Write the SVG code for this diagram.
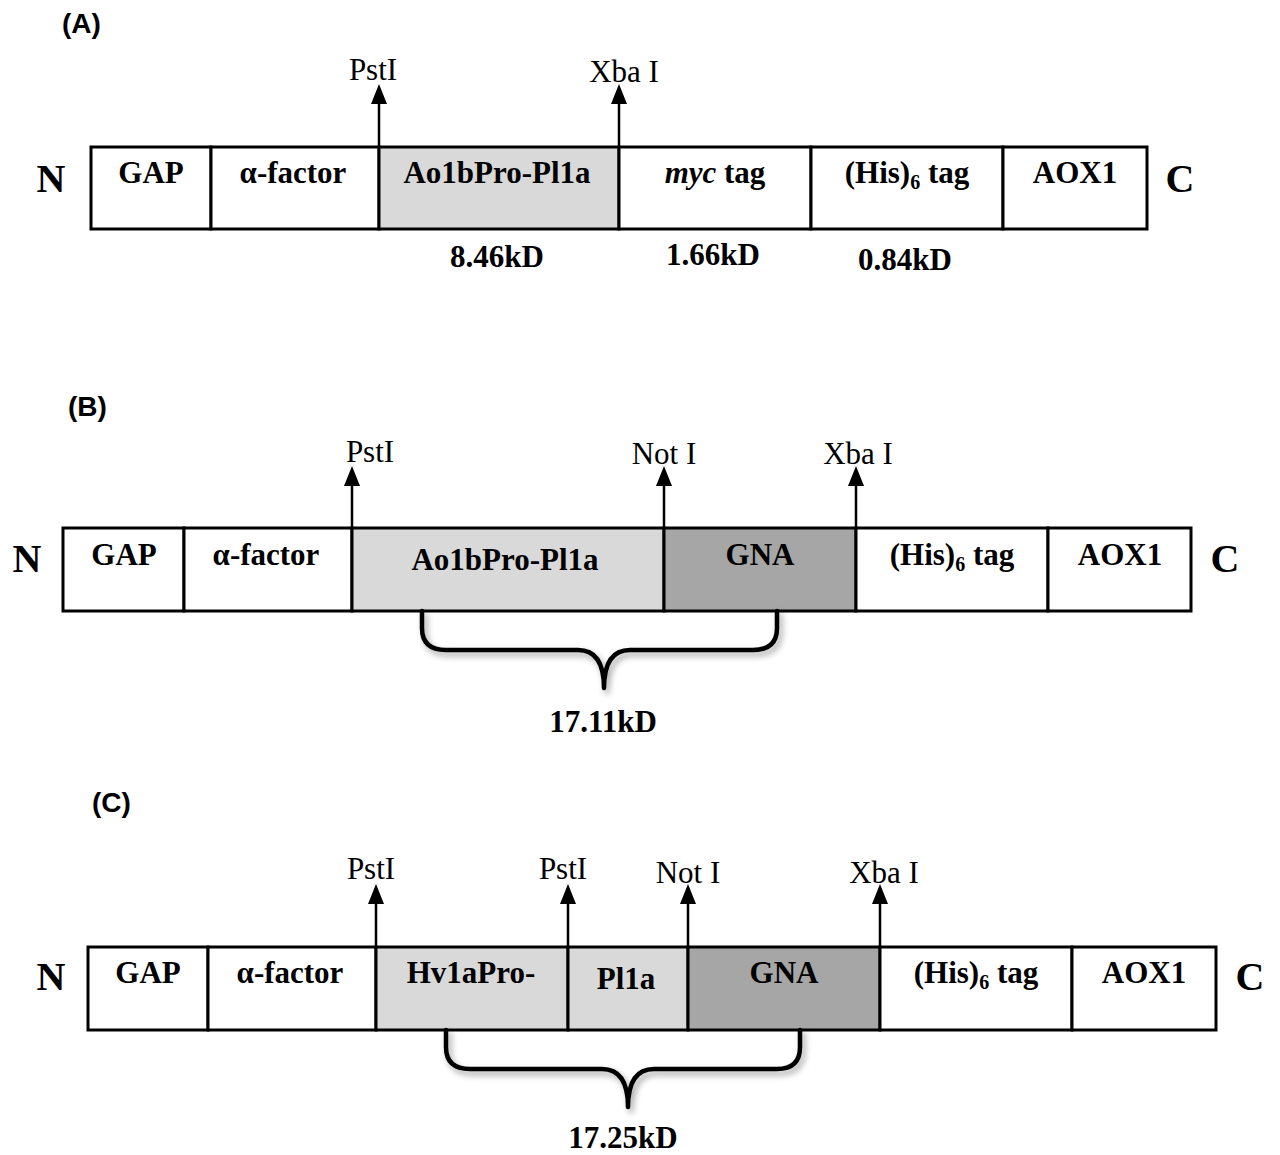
<svg xmlns="http://www.w3.org/2000/svg" width="1280" height="1155" viewBox="0 0 1280 1155">
<defs>
<style>
.seg{stroke:#000;stroke-width:3;fill:#fff}
.lg{fill:#d9d9d9}
.dg{fill:#a6a6a6}
.lbl{font-family:"Liberation Serif","Times New Roman",serif;font-weight:bold;font-size:31px;text-anchor:middle;fill:#000}
.end{font-family:"Liberation Serif","Times New Roman",serif;font-weight:bold;font-size:40px;text-anchor:middle;fill:#000}
.site{font-family:"Liberation Serif","Times New Roman",serif;font-size:31px;text-anchor:middle;fill:#000}
.panel{font-family:"Liberation Sans",Arial,sans-serif;font-weight:bold;font-size:28px;fill:#000}
.arr{stroke:#000;stroke-width:2.5;fill:none}
.brace{stroke:#000;stroke-width:4.5;fill:none;stroke-linecap:round;stroke-linejoin:round}
.sub{font-size:20px}
</style>
<marker id="ah" markerWidth="20" markerHeight="16" refX="0" refY="8" orient="auto" markerUnits="userSpaceOnUse" viewBox="0 0 20 16">
<path d="M0,0 L20,8 L0,16 Z" fill="#000"/>
</marker>
<filter id="sh" x="-10%" y="-30%" width="120%" height="170%">
<feDropShadow dx="3" dy="4" stdDeviation="3" flood-color="#000" flood-opacity="0.35"/>
</filter>
</defs>
<rect width="1280" height="1155" fill="#fff"/>

<!-- Panel A -->
<text class="panel" x="62" y="33">(A)</text>
<g id="A-nodes">
<g id="A-N"><text class="end" x="51" y="192">N</text></g>
<g id="A-GAP"><rect class="seg" x="91" y="147" width="120" height="82"/><text class="lbl" x="151" y="183">GAP</text></g>
<g id="A-alpha"><rect class="seg" x="211" y="147" width="168" height="82"/><text class="lbl" x="293" y="183">α-factor</text></g>
<g id="A-Ao1b"><rect class="seg lg" x="379" y="147" width="240" height="82"/><text class="lbl" x="497" y="183">Ao1bPro-Pl1a</text></g>
<g id="A-myc"><rect class="seg" x="619" y="147" width="192" height="82"/><text class="lbl" x="715" y="183"><tspan font-style="italic">myc</tspan> tag</text></g>
<g id="A-his"><rect class="seg" x="811" y="147" width="192" height="82"/><text class="lbl" x="907" y="183">(His)<tspan class="sub" dy="6">6</tspan><tspan dy="-6"> tag</tspan></text></g>
<g id="A-AOX1"><rect class="seg" x="1003" y="147" width="144" height="82"/><text class="lbl" x="1075" y="183">AOX1</text></g>
<g id="A-C"><text class="end" x="1180" y="192">C</text></g>
<g id="A-sizes">
<text class="lbl" x="497" y="267">8.46kD</text>
<text class="lbl" x="713" y="265">1.66kD</text>
<text class="lbl" x="905" y="270">0.84kD</text>
</g>
</g>
<g id="A-connectors">
<line class="arr" x1="379" y1="147" x2="379" y2="104" marker-end="url(#ah)"/>
<line class="arr" x1="619" y1="147" x2="619" y2="104" marker-end="url(#ah)"/>
</g>
<g id="A-sites">
<text class="site" x="373" y="80">PstI</text>
<text class="site" x="624" y="82">Xba I</text>
</g>

<!-- Panel B -->
<text class="panel" x="68" y="416">(B)</text>
<g id="B-nodes">
<g id="B-N"><text class="end" x="27" y="572">N</text></g>
<g id="B-GAP"><rect class="seg" x="63" y="528" width="121" height="83"/><text class="lbl" x="124" y="565">GAP</text></g>
<g id="B-alpha"><rect class="seg" x="184" y="528" width="168" height="83"/><text class="lbl" x="266" y="565">α-factor</text></g>
<g id="B-Ao1b"><rect class="seg lg" x="352" y="528" width="312" height="83"/><text class="lbl" x="505" y="570">Ao1bPro-Pl1a</text></g>
<g id="B-GNA"><rect class="seg dg" x="664" y="528" width="192" height="83"/><text class="lbl" x="760" y="565">GNA</text></g>
<g id="B-his"><rect class="seg" x="856" y="528" width="192" height="83"/><text class="lbl" x="952" y="565">(His)<tspan class="sub" dy="6">6</tspan><tspan dy="-6"> tag</tspan></text></g>
<g id="B-AOX1"><rect class="seg" x="1048" y="528" width="143" height="83"/><text class="lbl" x="1120" y="565">AOX1</text></g>
<g id="B-C"><text class="end" x="1225" y="572">C</text></g>
<g id="B-size"><text class="lbl" x="603" y="732">17.11kD</text></g>
</g>
<g id="B-connectors">
<line class="arr" x1="352" y1="528" x2="352" y2="486" marker-end="url(#ah)"/>
<line class="arr" x1="664" y1="528" x2="664" y2="486" marker-end="url(#ah)"/>
<line class="arr" x1="856" y1="528" x2="856" y2="486" marker-end="url(#ah)"/>
<path class="brace" filter="url(#sh)" d="M422,611 L422,628 Q422,650 446,650 L578,650 Q604,650 604,688 Q604,650 630,650 L753,650 Q777,650 777,628 L777,611"/>
</g>
<g id="B-sites">
<text class="site" x="370" y="462">PstI</text>
<text class="site" x="664" y="464">Not I</text>
<text class="site" x="858" y="464">Xba I</text>
</g>

<!-- Panel C -->
<text class="panel" x="92" y="812">(C)</text>
<g id="C-nodes">
<g id="C-N"><text class="end" x="51" y="990">N</text></g>
<g id="C-GAP"><rect class="seg" x="88" y="947" width="120" height="83"/><text class="lbl" x="148" y="983">GAP</text></g>
<g id="C-alpha"><rect class="seg" x="208" y="947" width="168" height="83"/><text class="lbl" x="290" y="983">α-factor</text></g>
<g id="C-Hv1a"><rect class="seg lg" x="376" y="947" width="192" height="83"/><text class="lbl" x="471" y="983">Hv1aPro-</text></g>
<g id="C-Pl1a"><rect class="seg lg" x="568" y="947" width="120" height="83"/><text class="lbl" x="626" y="989">Pl1a</text></g>
<g id="C-GNA"><rect class="seg dg" x="688" y="947" width="192" height="83"/><text class="lbl" x="784" y="983">GNA</text></g>
<g id="C-his"><rect class="seg" x="880" y="947" width="192" height="83"/><text class="lbl" x="976" y="983">(His)<tspan class="sub" dy="6">6</tspan><tspan dy="-6"> tag</tspan></text></g>
<g id="C-AOX1"><rect class="seg" x="1072" y="947" width="144" height="83"/><text class="lbl" x="1144" y="983">AOX1</text></g>
<g id="C-C"><text class="end" x="1250" y="990">C</text></g>
<g id="C-size"><text class="lbl" x="623" y="1148">17.25kD</text></g>
</g>
<g id="C-connectors">
<line class="arr" x1="376" y1="947" x2="376" y2="904" marker-end="url(#ah)"/>
<line class="arr" x1="568" y1="947" x2="568" y2="904" marker-end="url(#ah)"/>
<line class="arr" x1="688" y1="947" x2="688" y2="904" marker-end="url(#ah)"/>
<line class="arr" x1="880" y1="947" x2="880" y2="904" marker-end="url(#ah)"/>
<path class="brace" filter="url(#sh)" d="M446,1030 L446,1047 Q446,1069 470,1069 L602,1069 Q628,1069 628,1107 Q628,1069 654,1069 L777,1069 Q800,1069 800,1047 L800,1030"/>
</g>
<g id="C-sites">
<text class="site" x="371" y="879">PstI</text>
<text class="site" x="563" y="879">PstI</text>
<text class="site" x="688" y="883">Not I</text>
<text class="site" x="884" y="883">Xba I</text>
</g>
</svg>
